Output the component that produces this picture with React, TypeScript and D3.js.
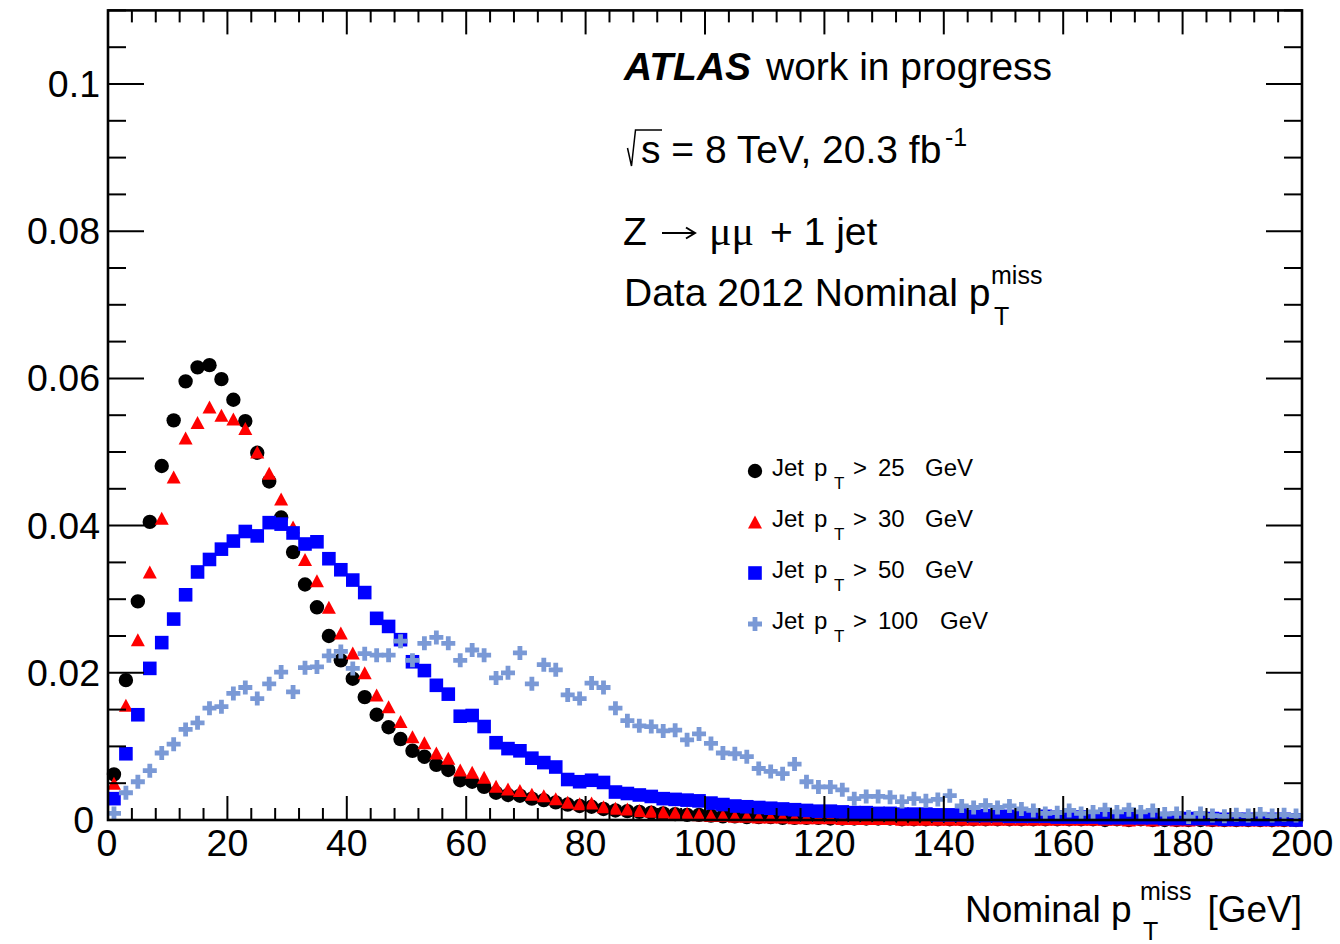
import React from 'react';
import * as d3 from 'd3';

// ---- data (bin width 2 GeV, bin centres 1..199) ----
const BIN_CENTERS = d3.range(1, 200, 2);

const JET25 = [
  0.0062, 0.0190, 0.0297, 0.0405, 0.0481, 0.0543, 0.0596, 0.0615, 0.0618, 0.0599,
  0.0571, 0.0542, 0.0499, 0.0460, 0.0411, 0.0364, 0.0320, 0.0289, 0.0250, 0.0217,
  0.0192, 0.0167, 0.0143, 0.0126, 0.0110, 0.0094, 0.0086, 0.0075, 0.0068, 0.0054,
  0.0052, 0.0045, 0.0037, 0.0034, 0.0033, 0.0029, 0.0027, 0.0024, 0.0021, 0.0019,
  0.0018, 0.0015, 0.0013, 0.0012, 0.0011, 0.0010, 0.0009, 0.0008, 0.0007, 0.0007,
  0.0006, 0.0005, 0.0005, 0.0004, 0.0004, 0.0004, 0.0003, 0.0003, 0.0003, 0.0003,
  0.0002, 0.0002, 0.0002, 0.0002, 0.0002, 0.0002, 0.0001, 0.0001, 0.0001, 0.0001,
  0.0001, 0.0001, 0.0001, 0.0001, 0.0001, 0.0001, 0.0001, 0.0001, 0.0001, 0.0001,
  0.0001, 0.0001, 0.0001, 0.0000, 0.0001, 0.0000, 0.0001, 0.0000, 0.0000, 0.0000,
  0.0000, 0.0000, 0.0000, 0.0000, 0.0000, 0.0000, 0.0000, 0.0000, 0.0000, 0.0000,
];

const JET30 = [
  0.0050, 0.0156, 0.0245, 0.0337, 0.0410, 0.0466, 0.0519, 0.0540, 0.0561, 0.0550,
  0.0545, 0.0532, 0.0500, 0.0471, 0.0436, 0.0398, 0.0354, 0.0325, 0.0289, 0.0254,
  0.0227, 0.0200, 0.0170, 0.0154, 0.0134, 0.0113, 0.0105, 0.0091, 0.0084, 0.0068,
  0.0065, 0.0058, 0.0046, 0.0042, 0.0040, 0.0035, 0.0033, 0.0029, 0.0024, 0.0022,
  0.0023, 0.0018, 0.0016, 0.0015, 0.0013, 0.0012, 0.0011, 0.0010, 0.0009, 0.0007,
  0.0006, 0.0006, 0.0005, 0.0005, 0.0004, 0.0004, 0.0004, 0.0003, 0.0003, 0.0003,
  0.0003, 0.0002, 0.0002, 0.0002, 0.0002, 0.0002, 0.0001, 0.0001, 0.0001, 0.0001,
  0.0001, 0.0001, 0.0001, 0.0001, 0.0001, 0.0001, 0.0001, 0.0001, 0.0001, 0.0001,
  0.0001, 0.0001, 0.0001, 0.0001, 0.0001, 0.0000, 0.0001, 0.0000, 0.0001, 0.0000,
  0.0000, 0.0001, 0.0000, 0.0000, 0.0000, 0.0000, 0.0000, 0.0000, 0.0000, 0.0000,
];

const JET50 = [
  0.0029, 0.0090, 0.0143, 0.0206, 0.0241, 0.0273, 0.0306, 0.0337, 0.0354, 0.0368,
  0.0379, 0.0392, 0.0386, 0.0404, 0.0402, 0.0390, 0.0375, 0.0378, 0.0355, 0.0340,
  0.0326, 0.0309, 0.0274, 0.0263, 0.0245, 0.0215, 0.0203, 0.0183, 0.0171, 0.0141,
  0.0142, 0.0127, 0.0105, 0.0097, 0.0094, 0.0084, 0.0078, 0.0072, 0.0055, 0.0052,
  0.0054, 0.0051, 0.0038, 0.0036, 0.0034, 0.0032, 0.0029, 0.0028, 0.0027, 0.0026,
  0.0023, 0.0021, 0.0019, 0.0018, 0.0017, 0.0016, 0.0015, 0.0014, 0.0013, 0.0012,
  0.0012, 0.0011, 0.0010, 0.0010, 0.0009, 0.0009, 0.0008, 0.0008, 0.0008, 0.0007,
  0.0007, 0.0007, 0.0006, 0.0006, 0.0006, 0.0005, 0.0005, 0.0005, 0.0005, 0.0004,
  0.0004, 0.0004, 0.0004, 0.0003, 0.0003, 0.0003, 0.0003, 0.0003, 0.0002, 0.0002,
  0.0002, 0.0002, 0.0002, 0.0001, 0.0001, 0.0001, 0.0001, 0.0001, 0.0001, 0.0000,
];

const JET100 = [
  0.0009, 0.0037, 0.0052, 0.0067, 0.0091, 0.0103, 0.0123, 0.0132, 0.0152, 0.0154,
  0.0172, 0.0180, 0.0165, 0.0185, 0.0201, 0.0174, 0.0207, 0.0208, 0.0223, 0.0229,
  0.0206, 0.0226, 0.0224, 0.0224, 0.0243, 0.0217, 0.0240, 0.0248, 0.0240, 0.0217,
  0.0231, 0.0224, 0.0193, 0.0200, 0.0227, 0.0185, 0.0211, 0.0204, 0.0170, 0.0165,
  0.0186, 0.0180, 0.0152, 0.0135, 0.0128, 0.0127, 0.0121, 0.0122, 0.0109, 0.0117,
  0.0104, 0.0091, 0.0090, 0.0086, 0.0070, 0.0066, 0.0063, 0.0076, 0.0052, 0.0045,
  0.0045, 0.0041, 0.0029, 0.0032, 0.0032, 0.0031, 0.0025, 0.0029, 0.0026, 0.0028,
  0.0033, 0.0019, 0.0017, 0.0020, 0.0017, 0.0019, 0.0015, 0.0013, 0.0009, 0.0010,
  0.0013, 0.0009, 0.0011, 0.0014, 0.0011, 0.0014, 0.0011, 0.0013, 0.0008, 0.0009,
  0.0004, 0.0009, 0.0006, 0.0005, 0.0007, 0.0006, 0.0008, 0.0006, 0.0007, 0.0006,
];

const X_TICK_VALUES = [0, 20, 40, 60, 80, 100, 120, 140, 160, 180, 200];
const X_TICK_LABELS = ['0', '20', '40', '60', '80', '100', '120', '140', '160', '180', '200'];
const Y_TICK_VALUES = [0, 0.02, 0.04, 0.06, 0.08, 0.1];
const Y_TICK_LABELS = ['0', '0.02', '0.04', '0.06', '0.08', '0.1'];

const LEGEND_THRESHOLDS = ['25', '30', '50', '100'];
const SERIES = [
  { key: 'j25', values: JET25, marker: 'circle', color: '#000000' },
  { key: 'j30', values: JET30, marker: 'triangle', color: '#ff0000' },
  { key: 'j50', values: JET50, marker: 'square', color: '#0000ff' },
  { key: 'j100', values: JET100, marker: 'cross', color: '#7a99d6' },
];

const FONT = "'Liberation Sans', Arial, Helvetica, sans-serif";

// ---- layout ----
const LEFT = 108, RIGHT = 1302, TOP = 10.4, BOTTOM = 820;

function markerPath(type: string, cx: number, cy: number): string {
  if (type === 'circle') {
    const r = 7.2;
    return `M${cx - r},${cy}a${r},${r} 0 1,0 ${2 * r},0a${r},${r} 0 1,0 ${-2 * r},0Z`;
  }
  if (type === 'triangle') {
    const w = 7, h = 6.5;
    return `M${cx - w},${cy + h}L${cx + w},${cy + h}L${cx},${cy - h}Z`;
  }
  if (type === 'square') {
    const s = 6.8;
    return `M${cx - s},${cy - s}H${cx + s}V${cy + s}H${cx - s}Z`;
  }
  // thick cross
  const s = 7, a = 2.4;
  return `M${cx - a},${cy - s}H${cx + a}V${cy - a}H${cx + s}V${cy + a}H${cx + a}V${cy + s}H${cx - a}V${cy + a}H${cx - s}V${cy - a}H${cx - a}Z`;
}

export default function App() {
  const x = d3.scaleLinear().domain([0, 200]).range([LEFT, RIGHT]);
  const y = d3.scaleLinear().domain([0, 0.11]).range([BOTTOM, TOP]);

  const xMinor = d3.range(0, 200.001, 4);
  const yMinor = d3.range(0, 0.1101, 0.005);

  return (
    <svg width={1340} height={944} style={{ position: 'absolute', left: 0, top: 0, background: '#fff' }} fontFamily={FONT}>
      <rect x={0} y={0} width={1340} height={944} fill="#fff" />

      {/* data markers */}
      {SERIES.map((s) => (
        <g key={s.key} fill={s.color}>
          {s.values.map((v, i) => (
            <path key={i} d={markerPath(s.marker, x(BIN_CENTERS[i]), y(v))} />
          ))}
        </g>
      ))}

      {/* ticks */}
      <g stroke="#000" strokeWidth={2}>
        {xMinor.map((t) => {
          const major = Math.abs(t % 20) < 1e-6;
          const len = major ? 24 : 12;
          return (
            <g key={'xt' + t}>
              <line x1={x(t)} x2={x(t)} y1={BOTTOM} y2={BOTTOM - len} />
              <line x1={x(t)} x2={x(t)} y1={TOP} y2={TOP + len} />
            </g>
          );
        })}
        {yMinor.map((t, i) => {
          const major = i % 4 === 0;
          const len = major ? 36 : 18;
          return (
            <g key={'yt' + i}>
              <line x1={LEFT} x2={LEFT + len} y1={y(t)} y2={y(t)} />
              <line x1={RIGHT} x2={RIGHT - len} y1={y(t)} y2={y(t)} />
            </g>
          );
        })}
      </g>

      {/* frame */}
      <rect x={LEFT} y={TOP} width={RIGHT - LEFT} height={BOTTOM - TOP} fill="none" stroke="#000" strokeWidth={2.6} />

      {/* x tick labels */}
      <g fontSize={37.5} textAnchor="middle" fill="#000">
        {X_TICK_VALUES.map((t, i) => (
          <text key={'xl' + t} x={x(t) - (t === 0 ? 1 : 0)} y={856}>{X_TICK_LABELS[i]}</text>
        ))}
      </g>
      {/* y tick labels */}
      <g fontSize={37.5} textAnchor="end" fill="#000">
        {Y_TICK_VALUES.map((t, i) => (
          <text key={'yl' + t} x={t === 0 ? 94 : 100} y={y(t) + 13}>{Y_TICK_LABELS[i]}</text>
        ))}
      </g>

      {/* x axis title */}
      <g fontSize={37} fill="#000">
        <text x={965} y={922}>Nominal p</text>
        <text x={1140} y={900} fontSize={25}>miss</text>
        <text x={1143} y={940} fontSize={25}>T</text>
        <text x={1302} y={922} textAnchor="end">[GeV]</text>
      </g>

      {/* header text */}
      <g fill="#000" fontSize={39}>
        <text x={624} y={80} fontWeight="bold" fontStyle="italic">ATLAS</text>
        <text x={766} y={80}>work in progress</text>

        <path d="M627.5,148 L631.5,166 L635.5,130 L662,130" fill="none" stroke="#000" strokeWidth={1.5} />
        <text x={641} y={163}>s = 8 TeV, 20.3 fb</text>
        <text x={945} y={146} fontSize={25}>-1</text>

        <text x={623} y={245}>Z</text>
        <path d="M662,233 H694 M686,227.5 L695,233 L686,238.5" fill="none" stroke="#000" strokeWidth={2} />
        <text x={709} y={245} fontSize={42} fontFamily="'Liberation Serif', 'DejaVu Serif', serif">μμ</text>
        <text x={770} y={245}>+ 1 jet</text>

        <text x={624} y={306}>Data 2012 Nominal p</text>
        <text x={991} y={284} fontSize={25}>miss</text>
        <text x={994} y={325} fontSize={25}>T</text>
      </g>

      {/* legend */}
      <g fill="#000" fontSize={24}>
        {SERIES.map((s, i) => {
          const base = 476 + i * 51;
          return (
            <g key={'lg' + s.key}>
              <path d={markerPath(s.marker, 755, base - 5)} fill={s.color} />
              <text x={772} y={base}>Jet</text>
              <text x={814} y={base}>p</text>
              <text x={834} y={base + 13} fontSize={17}>T</text>
              <text x={853} y={base}>{'>'}</text>
              <text x={878} y={base}>{LEGEND_THRESHOLDS[i]}</text>
              <text x={s.key === 'j100' ? 940 : 925} y={base}>GeV</text>
            </g>
          );
        })}
      </g>
    </svg>
  );
}
